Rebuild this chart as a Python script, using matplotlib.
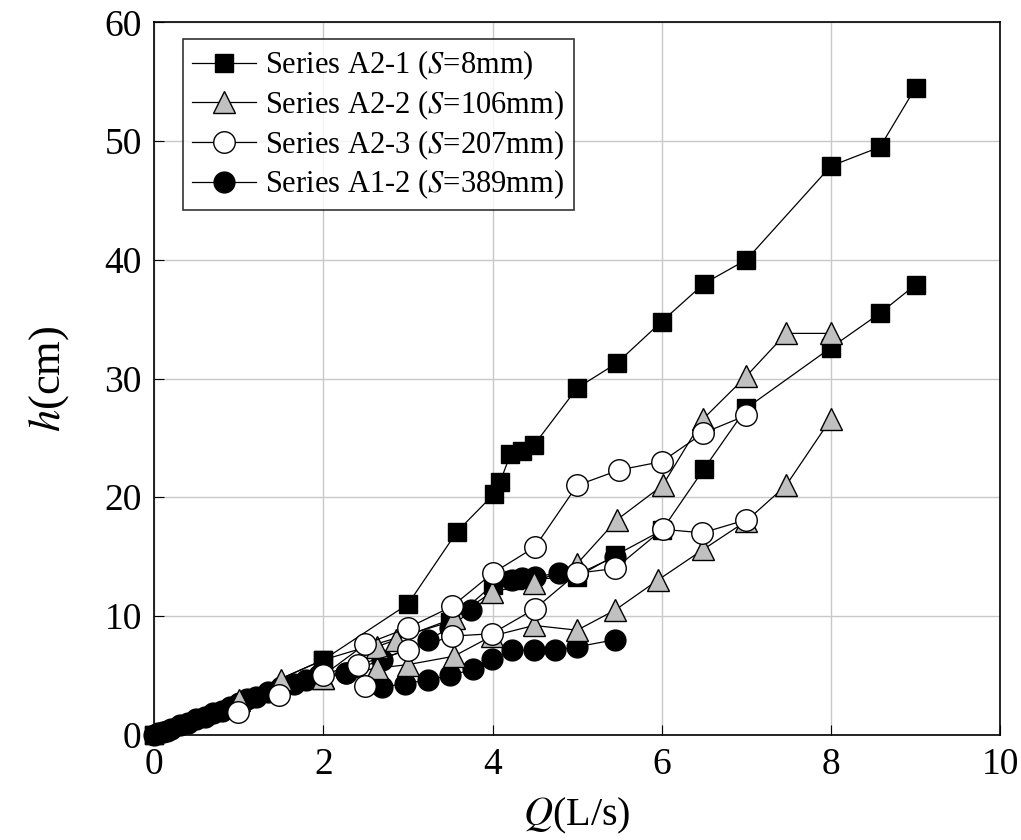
import matplotlib.pyplot as plt

# Series A2-1 (S=8mm), two runs
a21_q1 = [0, 2.0, 3.0, 3.58, 4.02, 4.09, 4.21, 4.35, 4.49, 5.0, 5.47, 6.0, 6.5, 7.0, 8.0, 8.58, 9.0]
a21_h1 = [0, 6.3, 11.0, 17.1, 20.3, 21.3, 23.6, 23.9, 24.4, 29.2, 31.3, 34.8, 38.0, 40.0, 47.9, 49.5, 54.5]
a21_q2 = [0, 2.0, 3.5, 4.0, 4.25, 5.0, 5.45, 6.0, 6.5, 7.0, 8.0, 8.58, 9.0]
a21_h2 = [0, 6.3, 9.5, 12.6, 13.0, 13.3, 15.1, 17.2, 22.4, 27.5, 32.6, 35.5, 37.9]

# Series A2-2 (S=106mm)
a22_q1 = [1.0, 1.5, 2.0, 2.63, 2.86, 3.54, 3.99, 4.49, 5.0, 5.47, 6.01, 6.49, 7.0, 7.47, 8.0]
a22_h1 = [2.9, 4.6, 4.8, 7.4, 8.0, 9.8, 12.0, 12.8, 14.4, 18.1, 21.0, 26.6, 30.2, 33.8, 33.8]
a22_q2 = [2.0, 2.63, 3.0, 3.54, 3.99, 4.49, 5.0, 5.45, 5.95, 6.49, 7.0, 7.47, 8.0]
a22_h2 = [4.8, 5.6, 5.9, 6.6, 8.3, 9.2, 8.8, 10.5, 13.0, 15.6, 18.0, 21.0, 26.6]

# Series A2-3 (S=207mm)
a23_q1 = [0.99, 1.48, 2.0, 2.49, 3.0, 3.52, 4.0, 4.5, 5.0, 5.5, 6.0, 6.49, 7.0]
a23_h1 = [1.9, 3.3, 5.0, 7.6, 9.0, 10.8, 13.6, 15.8, 21.0, 22.3, 23.0, 25.4, 26.9]
a23_q2 = [2.49, 2.41, 3.0, 3.52, 3.99, 4.5, 5.0, 5.45, 6.01, 6.48, 7.0]
a23_h2 = [4.1, 5.9, 7.1, 8.3, 8.5, 10.6, 13.6, 14.0, 17.3, 17.0, 18.1]

# Series A1-2 (S=389mm)
a12_q1 = [0, 0.05, 0.1, 0.15, 0.2, 0.3, 0.4, 0.5, 0.6, 0.7, 0.8, 0.9, 1.0, 1.1, 1.2, 1.35,
          1.5, 1.65, 1.8, 1.95, 2.27, 2.69, 3.24, 3.5, 3.75, 4.23, 4.35, 4.5, 4.78, 5.0, 5.45]
a12_h1 = [0, 0.1, 0.2, 0.3, 0.5, 0.8, 1.0, 1.3, 1.5, 1.8, 2.0, 2.3, 2.7, 3.0, 3.2, 3.6,
          4.0, 4.3, 4.6, 5.0, 5.2, 6.3, 8.0, 9.0, 10.5, 13.0, 13.2, 13.3, 13.6, 13.5, 15.0]
a12_q2 = [2.27, 2.69, 2.96, 3.24, 3.5, 3.77, 3.99, 4.23, 4.49, 4.74, 5.0, 5.45]
a12_h2 = [5.2, 4.0, 4.3, 4.6, 5.0, 5.5, 6.4, 7.1, 7.1, 7.1, 7.4, 8.0]

labels = ["Series A2-1 ($S$=8mm)", "Series A2-2 ($S$=106mm)",
          "Series A2-3 ($S$=207mm)", "Series A1-2 ($S$=389mm)"]

plt.rcParams["font.family"] = ["Liberation Serif", "DejaVu Serif"]
plt.rcParams["mathtext.fontset"] = "stix"

fig = plt.figure(figsize=(10.21, 8.4), dpi=100)
ax = fig.add_axes([0.151, 0.1254, 0.8286, 0.848])

line_kw = dict(color="black", lw=0.9, ls="-", markeredgecolor="black",
               markeredgewidth=1.0, clip_on=False)

# black circles at the bottom, white circles on top
ax.plot(a12_q2, a12_h2, marker="o", ms=15, markerfacecolor="black", zorder=2, **line_kw)
h4, = ax.plot(a12_q1, a12_h1, marker="o", ms=15, markerfacecolor="black", zorder=2, **line_kw)
ax.plot(a21_q2, a21_h2, marker="s", ms=13, markerfacecolor="black", zorder=3, **line_kw)
h1, = ax.plot(a21_q1, a21_h1, marker="s", ms=13, markerfacecolor="black", zorder=3, **line_kw)
ax.plot(a22_q2, a22_h2, marker="^", ms=16, markerfacecolor="#c0c0c0", zorder=4, **line_kw)
h2, = ax.plot(a22_q1, a22_h1, marker="^", ms=16, markerfacecolor="#c0c0c0", zorder=4, **line_kw)
ax.plot(a23_q2, a23_h2, marker="o", ms=15.5, markerfacecolor="white", zorder=5, **line_kw)
h3, = ax.plot(a23_q1, a23_h1, marker="o", ms=15.5, markerfacecolor="white", zorder=5, **line_kw)

ax.set_xlim(0, 10)
ax.set_ylim(0, 60)
ax.set_xticks(range(0, 11, 2))
ax.set_yticks(range(0, 61, 10))
ax.grid(True, color="#c8c8c8", lw=1.0)
ax.set_axisbelow(True)
ax.tick_params(direction="in", length=7, labelsize=27, pad=9)
for s in ax.spines.values():
    s.set_linewidth(1.2)
    s.set_zorder(1)

ax.set_xlabel("$Q$(L/s)", fontsize=29, labelpad=10)
ax.set_ylabel("$h$(cm)", fontsize=32, labelpad=24)

leg = ax.legend([h1, h2, h3, h4], labels, loc="upper left", bbox_to_anchor=(0.034, 0.976),
                borderaxespad=0, fontsize=22, frameon=True, fancybox=False, edgecolor="black",
                handlelength=2.1, labelspacing=0.2, borderpad=0.3, handletextpad=0.3,
                markerscale=1.0)
leg.get_frame().set_linewidth(1.2)
leg.set_zorder(10)

plt.savefig("out.png", dpi=100)
